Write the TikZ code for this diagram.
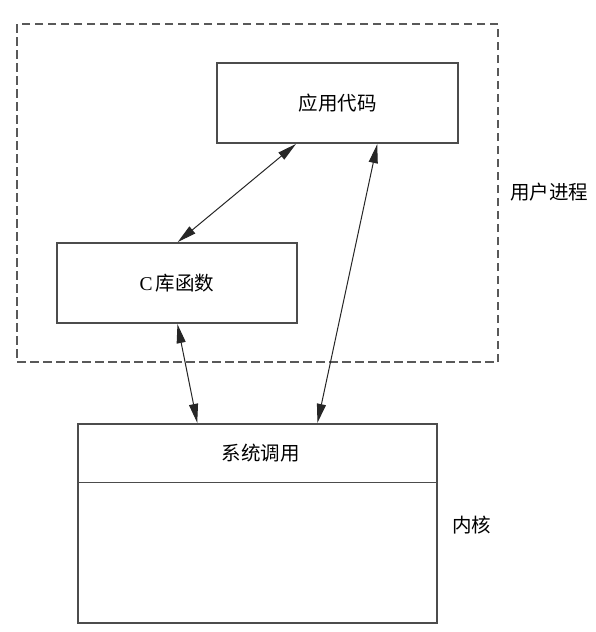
\documentclass[tikz,border=0pt]{standalone}
\usepackage{fontspec}
\setmainfont{Liberation Serif}
\newfontfamily\cjk{Noto Sans CJK SC}
\usetikzlibrary{arrows.meta,calc}
\begin{document}
\begin{tikzpicture}[x=1pt,y=-1pt,
  boxstyle/.style={draw=black!70,line width=1.3pt,rectangle,inner sep=0pt,font=\fontsize{19.5}{22}\selectfont},
  lbl/.style={inner sep=0pt,font=\fontsize{19.5}{22}\selectfont,anchor=west},
  conn/.style={line width=1pt,black!85,{Triangle[length=19pt,width=9pt]}-{Triangle[length=19pt,width=9pt]},shorten <=0.5pt,shorten >=0.5pt}]
\useasboundingbox (0,0) rectangle (596,632);
% user process dashed region
\draw[black!65,line width=1.3pt,dash pattern=on 8.5pt off 4.5pt] (17,24) rectangle (498,362);
\node[lbl] (user) at (510,192) {\cjk 用户进程};
% boxes
\node[boxstyle,minimum width=241pt,minimum height=80pt] (app) at (337.5,103) {\cjk 应用代码};
\node[boxstyle,minimum width=240pt,minimum height=80pt] (clib) at (177,283) {C\,\cjk 库函数};
\node[boxstyle,minimum width=359pt,minimum height=199pt] (kern) at (257.5,523.5) {};
\coordinate (divl) at ($(kern.north west)+(0,59)$);
\coordinate (divr) at ($(kern.north east)+(0,59)$);
\draw[black!70,line width=1.3pt] (divl) -- (divr);
\node[inner sep=0pt,font=\fontsize{19.5}{22}\selectfont] (sys) at ($(divl)!0.5!(divr)+(3,-29.5)$) {\cjk 系统调用};
\node[lbl] (kernlbl) at (452,525) {\cjk 内核};
% connector end points
\coordinate (a1) at ($(app.south west)+(80,0)$);
\coordinate (a2) at ($(app.south west)+(161,0)$);
\coordinate (c1) at ($(clib.north west)+(121,0)$);
\coordinate (c2) at ($(clib.south west)+(121,0)$);
\coordinate (k1) at ($(kern.north west)+(120,0)$);
\coordinate (k2) at ($(kern.north west)+(240,0)$);
\draw[conn] (a1) -- (c1);
\draw[conn] (a2) -- (k2);
\draw[conn] (c2) -- (k1);
\end{tikzpicture}
\end{document}
